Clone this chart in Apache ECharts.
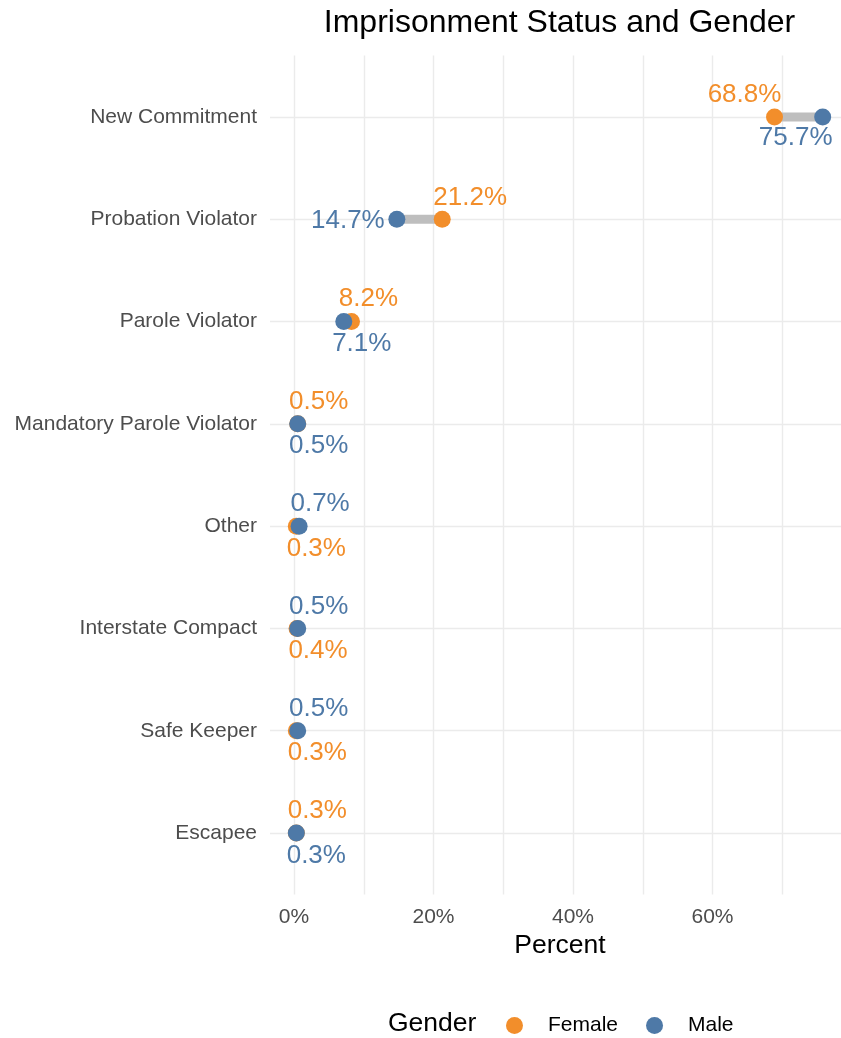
<!DOCTYPE html>
<html>
<head>
<meta charset="utf-8">
<script src="https://cdn.jsdelivr.net/npm/echarts@6/dist/echarts.min.js"></script>
<style>
  html, body { margin: 0; padding: 0; background: #fff; }
  #main { width: 841px; height: 1038px; }
</style>
</head>
<body>
<div id="main"></div>
<script>
// data, top to bottom
const statuses = ['New Commitment', 'Probation Violator', 'Parole Violator', 'Mandatory Parole Violator',
  'Other', 'Interstate Compact', 'Safe Keeper', 'Escapee'];
const female = [68.8, 21.2, 8.2, 0.5, 0.3, 0.4, 0.3, 0.3];
const male = [75.7, 14.7, 7.1, 0.5, 0.7, 0.5, 0.5, 0.3];
const xTicks = [0, 20, 40, 60];

// label nudges (px) -- mimic the repelled text of the original
const femaleNudge = [[-30, -22], [28, -21], [17, -23], [21, -22], [20, 23], [21, 22], [21, 22], [21, -22]];
const maleNudge = [[-27, 21], [-49, 2], [18, 22], [21, 22], [21, -22], [21, -22], [21, -22], [20, 23]];

const FONT = 'Liberation Sans, Arial, sans-serif';
const ORANGE = '#F28E2B';
const BLUE = '#4E79A7';
const GRID_COL = '#EBEBEB';

const chart = echarts.init(document.getElementById('main'));

const pct = v => v.toFixed(1) + '%';

function pointData(vals, nudge) {
  return vals.map((v, i) => ({
    value: [v, i],
    label: { offset: nudge[i] }
  }));
}

const option = {
  animation: false,
  backgroundColor: '#fff',
  textStyle: { fontFamily: FONT },
  grid: [
    // panel (vertical grid lines + x axis)
    { left: 294, width: 558, top: 55.6, height: 838.8, outerBoundsMode: 'none', containLabel: false },
    // data area, categories centred on lines
    { left: 270, width: 579, top: 117, height: 716, outerBoundsMode: 'none', containLabel: false }
  ],
  xAxis: [
    {
      gridIndex: 0, type: 'value', min: 0, max: 80, interval: 10,
      axisLine: { show: false }, axisTick: { show: false },
      splitLine: { show: true, lineStyle: { color: GRID_COL, width: 1.4 } },
      axisLabel: {
        margin: 12, fontSize: 21, color: '#4D4D4D', fontFamily: FONT,
        formatter: v => xTicks.indexOf(v) >= 0 ? v + '%' : ''
      },
      name: 'Percent', nameLocation: 'middle', nameGap: 37,
      nameTextStyle: { fontSize: 26.5, color: '#000', fontFamily: FONT, padding: [0, 26, 0, 0] }
    },
    {
      gridIndex: 1, type: 'value', min: -3.47, max: 79.47,
      show: false, splitLine: { show: false }
    }
  ],
  yAxis: [
    { gridIndex: 0, type: 'value', show: false, splitLine: { show: false } },
    {
      gridIndex: 1, type: 'category', data: statuses, inverse: true, boundaryGap: false,
      axisLine: { show: false }, axisTick: { show: false },
      splitLine: { show: true, lineStyle: { color: GRID_COL, width: 1.4 } },
      axisLabel: { margin: 13, fontSize: 21, color: '#4D4D4D', fontFamily: FONT }
    }
  ],
  legend: {
    data: ['Female', 'Male'],
    left: 501, top: 1010,
    icon: 'circle', itemWidth: 17, itemHeight: 17, itemGap: 28,
    textStyle: { fontSize: 21, color: '#000', fontFamily: FONT, padding: [0, 0, 0, 20] }
  },
  graphic: [
    {
      type: 'text', x: 559.5, y: 23,
      style: { text: 'Imprisonment Status and Gender', font: '32px ' + FONT, fill: '#000',
        align: 'center', verticalAlign: 'middle' }
    },
    {
      type: 'text', x: 388, y: 1024,
      style: { text: 'Gender', font: '26.5px ' + FONT, fill: '#000',
        align: 'left', verticalAlign: 'middle' }
    }
  ],
  series: [
    {
      type: 'custom', name: 'gap', xAxisIndex: 1, yAxisIndex: 1,
      data: female.map((f, i) => [f, male[i], i]),
      renderItem: (params, api) => {
        const a = api.coord([api.value(0), api.value(2)]);
        const b = api.coord([api.value(1), api.value(2)]);
        return {
          type: 'line',
          shape: { x1: a[0], y1: a[1], x2: b[0], y2: b[1] },
          style: { stroke: '#BEBEBE', lineWidth: 9 }
        };
      },
      z: 1, silent: true
    },
    {
      type: 'scatter', name: 'Female', xAxisIndex: 1, yAxisIndex: 1,
      data: pointData(female, femaleNudge),
      symbolSize: 17, itemStyle: { color: ORANGE, opacity: 1 },
      label: { show: true, position: 'inside', fontSize: 26, color: ORANGE, fontFamily: FONT,
        formatter: p => pct(p.value[0]) },
      z: 2
    },
    {
      type: 'scatter', name: 'Male', xAxisIndex: 1, yAxisIndex: 1,
      data: pointData(male, maleNudge),
      symbolSize: 17, itemStyle: { color: BLUE, opacity: 1 },
      label: { show: true, position: 'inside', fontSize: 26, color: BLUE, fontFamily: FONT,
        formatter: p => pct(p.value[0]) },
      z: 3
    }
  ]
};

chart.setOption(option);
</script>
</body>
</html>
